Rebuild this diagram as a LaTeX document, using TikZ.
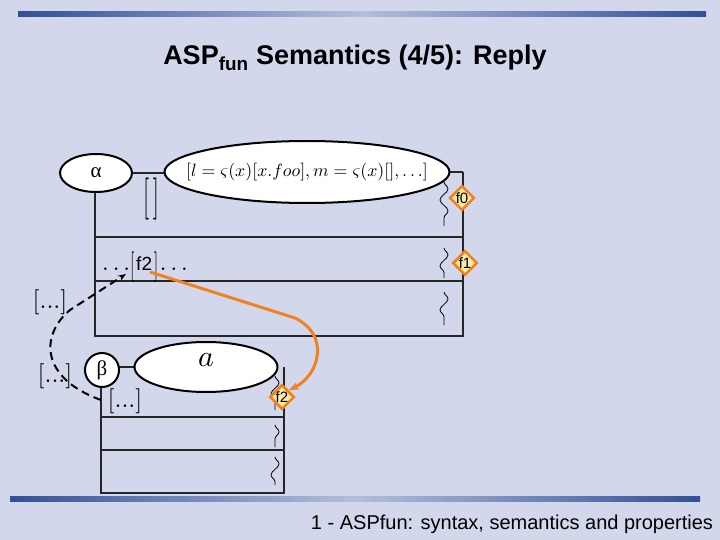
\documentclass[tikz,border=0pt]{standalone}
\usepackage{graphicx}
\usepackage{fontspec}
\setsansfont{Liberation Sans}
\newfontfamily\grk{Liberation Serif}
\usetikzlibrary{shapes.geometric,arrows.meta,decorations.pathmorphing}
\definecolor{bg}{RGB}{210,215,236}
\definecolor{barL}{RGB}{50,80,150}
\definecolor{barR}{RGB}{180,190,220}
\definecolor{orng}{RGB}{240,130,30}
\definecolor{dgl}{RGB}{250,235,170}
\newcommand{\dotsbox}{\scalebox{2.5}{$[\mathbf{...}]$}}
\tikzset{
  ell/.style={ellipse,draw=black,line width=2pt,fill=white,inner sep=0pt},
  frame/.style={line width=2.5pt,draw=black!85},
  diam/.style={diamond,draw=orng,line width=2.5pt,fill=dgl,inner sep=0.3pt,font=\sffamily\fontsize{15}{16}\selectfont},
  sq/.style={decorate,decoration={snake,amplitude=4pt,segment length=22pt},line width=0.8pt},
  lbl/.style={inner sep=0pt}
}
\begin{document}
\begin{tikzpicture}[x=1pt,y=-1pt]
\useasboundingbox (0,0) rectangle (720,540);
\fill[bg] (0,0) rectangle (720,540);
\shade[left color=barL,right color=barR] (18,12) rectangle (362,17);
\shade[left color=barR,right color=barL] (362,12) rectangle (706,17);
\shade[left color=barL,right color=barR] (10,496) rectangle (355,501);
\shade[left color=barR,right color=barL] (355,496) rectangle (700,501);
\node[lbl,font=\sffamily\bfseries\fontsize{27}{30}\selectfont] (title) at (355,58) {ASP\textsubscript{fun} Semantics (4/5): Reply};
\node[lbl,font=\sffamily\fontsize{20}{22}\selectfont] (foot) at (512,524) {1 - ASPfun: syntax, semantics and properties};

% top frame
\draw[frame] (95,190) -- (95,336) -- (463,336) -- (463,172);
\draw[frame] (95,237) -- (463,237);
\draw[frame] (95,281) -- (463,281);
\draw[frame] (130,173) -- (440,173);
\draw[frame] (440,172) -- (463,172);
\node[ell,minimum width=72,minimum height=38,font=\grk\fontsize{21}{24}\selectfont] (alpha) at (96,173) {α};
\node[ell,minimum width=285,minimum height=62] (req) at (307,172) {};
\node[lbl] (reqtext) at (req.center) {\scalebox{1.78}{$[l=\varsigma(x)[x.foo],m=\varsigma(x)[],\ldots]$}};
\node[lbl] (emp) at (151,199) {\scalebox{2.2}[4.2]{$[\,]$}};
\draw[sq] (444,182) -- (444,226);
\draw[sq] (444,248) -- (444,278);
\draw[sq] (444,292) -- (444,325);
\node[diam] (f0) at (462,198) {f0};
\node[diam] (f1) at (465,263) {f1};
\node[lbl,anchor=base] (row) at (145,270) {\scalebox{2.4}{$\ldots$}\raisebox{-5pt}{\scalebox{1.6}[3]{$[$}}\,{\sffamily\fontsize{19}{22}\selectfont f2}\,\raisebox{-5pt}{\scalebox{1.6}[3]{$]$}}\,\scalebox{2.4}{$\ldots$}};
\coordinate (fa) at (150,272);
\coordinate (dstart) at (126,274);
\node[lbl] (dots1) at (50,302) {\dotsbox};

% bottom frame
\draw[frame] (101,385) -- (101,493) -- (284,493) -- (284,367);
\draw[frame] (101,417) -- (284,417);
\draw[frame] (101,450) -- (284,450);
\draw[frame] (118,367) -- (140,367);
\node[ell,minimum width=143,minimum height=50] (a) at (206,367) {};
\node[lbl] (atext) at (206,360) {\scalebox{3}{$a$}};
\node[circle,draw=black,line width=2pt,fill=white,minimum size=34,inner sep=0pt,font=\grk\fontsize{21}{24}\selectfont] (beta) at (102,370) {β};
\draw[sq] (275,376) -- (275,410);
\draw[sq] (275,425) -- (275,447);
\draw[sq] (275,457) -- (275,485);
\node[diam] (f2) at (282,397) {f2};
\node[lbl] (dots2) at (125,401) {\dotsbox};
\node[lbl] (dots3) at (55,376) {\dotsbox};

% connectors
\draw[line width=2pt,dash pattern=on 8pt off 5pt,-{Stealth[length=8pt]}] (101,400) .. controls (40,378) and (40,335) .. (70,310) -- (dstart);
\draw[orng,line width=3pt,-{Stealth[length=10pt]}] (fa) -- (295,318) .. controls (330,335) and (320,375) .. (f2.north east);
\end{tikzpicture}
\end{document}
